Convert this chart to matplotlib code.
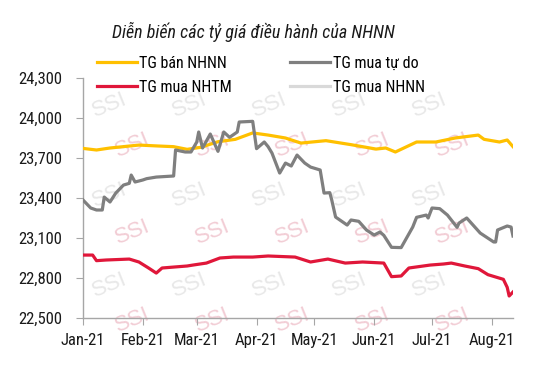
import pandas as pd
import matplotlib
matplotlib.use("Agg")
import matplotlib.pyplot as plt
import matplotlib.dates as mdates
from matplotlib.lines import Line2D

plt.rcParams["font.family"] = ["Roboto Condensed", "DejaVu Sans"]

# TG mua tự do (free market buying rate)
free_dates = ["2021-01-01", "2021-01-05", "2021-01-08", "2021-01-11", "2021-01-12", "2021-01-15",
              "2021-01-18", "2021-01-22", "2021-01-25", "2021-01-26", "2021-01-28", "2021-02-01",
              "2021-02-03", "2021-02-08", "2021-02-17", "2021-02-18", "2021-02-23", "2021-02-26",
              "2021-03-01", "2021-03-02", "2021-03-04", "2021-03-08", "2021-03-12", "2021-03-15",
              "2021-03-18", "2021-03-22", "2021-03-23", "2021-03-30", "2021-04-01", "2021-04-05",
              "2021-04-07", "2021-04-09", "2021-04-13", "2021-04-16", "2021-04-19", "2021-04-22",
              "2021-04-26", "2021-04-29", "2021-05-04", "2021-05-06", "2021-05-09", "2021-05-10",
              "2021-05-12", "2021-05-18", "2021-05-20", "2021-05-24", "2021-05-28", "2021-06-01",
              "2021-06-04", "2021-06-06", "2021-06-10", "2021-06-15", "2021-06-21", "2021-06-23",
              "2021-06-28", "2021-06-29", "2021-07-01", "2021-07-05", "2021-07-09", "2021-07-14",
              "2021-07-15", "2021-07-19", "2021-07-26", "2021-08-02", "2021-08-03", "2021-08-04",
              "2021-08-09", "2021-08-11", "2021-08-12"]
free_vals = [23385, 23325, 23310, 23310, 23407, 23370,
             23437, 23497, 23510, 23572, 23520, 23535,
             23545, 23557, 23565, 23760, 23745, 23745,
             23820, 23895, 23775, 23880, 23750, 23895,
             23855, 23895, 23970, 23975, 23770, 23820,
             23785, 23737, 23587, 23662, 23640, 23722,
             23662, 23632, 23610, 23437, 23440, 23385,
             23257, 23197, 23235, 23225, 23160, 23122,
             23145, 23120, 23030, 23028, 23182, 23255,
             23272, 23250, 23325, 23320, 23272, 23180,
             23212, 23250, 23137, 23070, 23070, 23160,
             23190, 23182, 23115]

# TG bán NHNN (SBV selling rate)
sbv_sell_dates = ["2021-01-01", "2021-01-08", "2021-01-15", "2021-01-30", "2021-02-09", "2021-02-17",
                  "2021-02-24", "2021-03-03", "2021-03-12", "2021-03-21", "2021-03-30", "2021-04-07",
                  "2021-04-16", "2021-04-24", "2021-05-07", "2021-05-20", "2021-06-02", "2021-06-07",
                  "2021-06-12", "2021-06-23", "2021-07-03", "2021-07-13", "2021-07-25", "2021-07-28",
                  "2021-08-05", "2021-08-09", "2021-08-12"]
sbv_sell_vals = [23772, 23760, 23775, 23797, 23790, 23785,
                 23765, 23780, 23822, 23840, 23888, 23872,
                 23850, 23812, 23830, 23800, 23767, 23775,
                 23745, 23820, 23820, 23850, 23872, 23840,
                 23820, 23835, 23785]

# TG mua NHTM (commercial bank buying rate)
bank_dates = ["2021-01-01", "2021-01-06", "2021-01-08", "2021-01-13", "2021-01-25", "2021-01-30",
              "2021-02-04", "2021-02-08", "2021-02-11", "2021-02-17", "2021-02-24", "2021-02-27",
              "2021-03-06", "2021-03-13", "2021-03-20", "2021-03-30", "2021-04-07", "2021-04-21",
              "2021-04-29", "2021-05-08", "2021-05-17", "2021-05-26", "2021-06-06", "2021-06-10",
              "2021-06-15", "2021-06-19", "2021-06-30", "2021-07-07", "2021-07-11", "2021-07-18",
              "2021-07-25", "2021-07-30", "2021-08-07", "2021-08-09", "2021-08-10", "2021-08-12"]
bank_vals = [22972, 22972, 22930, 22935, 22942, 22920,
             22875, 22837, 22875, 22882, 22890, 22897,
             22912, 22950, 22957, 22957, 22965, 22957,
             22920, 22942, 22912, 22920, 22912, 22810,
             22815, 22875, 22897, 22905, 22912, 22890,
             22870, 22825, 22790, 22730, 22665, 22695]

yticks = [22500, 22800, 23100, 23400, 23700, 24000, 24300]
month_ticks = pd.date_range("2021-01-01", "2021-08-01", freq="MS")

title = "Diễn biến các tỷ giá điều hành của NHNN"
labels = ["TG bán NHNN", "TG mua NHTM", "TG mua tự do", "TG mua NHNN"]
colors = ["#FFC000", "#E0173A", "#7F7F7F", "#D9D9D9"]

W, H = 537, 366
fig = plt.figure(figsize=(W / 100, H / 100), dpi=100)
L, R, T, B = 83, 513, 78, 318
ax = fig.add_axes([L / W, 1 - B / H, (R - L) / W, (B - T) / H])

# SSI watermark
for row_y, row_x0, wcol in [(105, 110, "#E8E8E8"), (195, 110, "#E8E8E8"), (285, 110, "#E8E8E8"),
                            (145, 133, "#F2CDD5"), (232, 133, "#F2CDD5"), (320, 133, "#F2CDD5")]:
    for k in range(6):
        px = row_x0 + 80 * k
        if px > R - 5:
            continue
        t = ax.text((px - L) / (R - L), (B - row_y) / (B - T), "SSI", transform=ax.transAxes,
                    fontsize=16, color=wcol, rotation=22, ha="center", va="center",
                    family=["Liberation Sans", "DejaVu Sans"], zorder=0)
        t.set_clip_path(ax.patch)

ax.plot(pd.to_datetime(sbv_sell_dates), sbv_sell_vals, color=colors[0], lw=2.3, zorder=3)
ax.plot(pd.to_datetime(bank_dates), bank_vals, color=colors[1], lw=2.3, zorder=3)
ax.plot(pd.to_datetime(free_dates), free_vals, color=colors[2], lw=2.3, zorder=3)

ax.set_xlim(pd.Timestamp("2021-01-01"), pd.Timestamp("2021-08-12"))
ax.set_ylim(22500, 24300)
ax.set_yticks(yticks)
ax.set_yticklabels([f"{v:,}" for v in yticks])
ax.set_xticks(month_ticks)
ax.xaxis.set_major_formatter(mdates.DateFormatter("%b-%y"))

for s in ["top", "right"]:
    ax.spines[s].set_visible(False)
for s in ["left", "bottom"]:
    ax.spines[s].set_color("#A6A6A6")
    ax.spines[s].set_linewidth(1.0)
ax.tick_params(axis="both", colors="#A6A6A6", labelcolor="#1A1A1A", labelsize=12, length=5)
ax.tick_params(axis="y", pad=10)
ax.tick_params(axis="x", pad=6)

fig.text(253 / W, 1 - 32 / H, title, ha="center", va="center", fontsize=13, style="italic",
         color="#1A1A1A")

handles = [Line2D([], [], color=c, lw=2.3) for c in colors]
fig.legend(handles, labels, ncol=2, loc="upper left", bbox_to_anchor=(97 / W, 1 - 56 / H),
           frameon=False, fontsize=11.5, handlelength=2.5, handletextpad=0.15,
           columnspacing=3.65, labelspacing=0.55, borderpad=0, borderaxespad=0)

fig.savefig("out.png", dpi=100)
